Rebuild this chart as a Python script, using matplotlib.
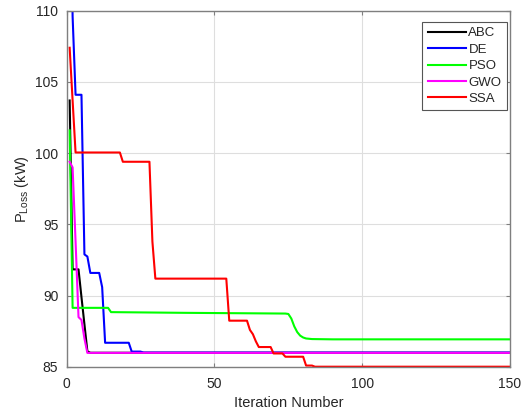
import matplotlib
matplotlib.use("Agg")
import matplotlib.pyplot as plt

plt.rcParams['font.family'] = ['Liberation Sans', 'DejaVu Sans']
plt.rcParams['mathtext.fontset'] = 'custom'
plt.rcParams['mathtext.rm'] = 'Liberation Sans'
plt.rcParams['mathtext.it'] = 'Liberation Sans:italic'

# Convergence histories (iteration, best power loss in kW) for each optimizer
abc_iter = [1, 2, 4, 5, 6, 7, 8, 150]
abc_loss = [103.7, 91.85, 91.85, 89.9, 88.0, 86.1, 86.0, 86.0]

de_iter = [1, 2, 3, 5, 6, 7, 8, 11, 12, 13, 21, 22, 25, 26, 150]
de_loss = [125.0, 109.6, 104.1, 104.1, 92.9, 92.75, 91.6, 91.6, 90.6, 86.7,
           86.7, 86.08, 86.08, 86.01, 86.01]

pso_iter = [1, 2, 14, 15, 40, 74, 75, 76, 77, 78, 79, 80, 81, 83, 90, 150]
pso_loss = [101.6, 89.15, 89.15, 88.85, 88.8, 88.75, 88.72, 88.4, 87.85,
            87.45, 87.2, 87.07, 87.0, 86.96, 86.94, 86.94]

gwo_iter = [1, 2, 3, 4, 5, 6, 7, 150]
gwo_loss = [99.4, 99.0, 93.8, 88.5, 88.3, 87.0, 85.99, 85.99]

ssa_iter = [1, 2, 3, 18, 19, 28, 29, 30, 54, 55, 61, 62, 63, 64, 65, 69, 70,
            73, 74, 80, 81, 83, 84, 150]
ssa_loss = [107.4, 103.7, 100.05, 100.05, 99.4, 99.4, 93.8, 91.2, 91.2, 88.25,
            88.25, 87.6, 87.3, 86.8, 86.4, 86.4, 85.95, 85.95, 85.72, 85.72,
            85.1, 85.1, 85.02, 85.02]

series = [
    ("ABC", abc_iter, abc_loss, "#000000"),
    ("DE", de_iter, de_loss, "#0000ff"),
    ("PSO", pso_iter, pso_loss, "#00ff00"),
    ("GWO", gwo_iter, gwo_loss, "#ff00ff"),
    ("SSA", ssa_iter, ssa_loss, "#ff0000"),
]

x_ticks = [0, 50, 100, 150]
y_ticks = [85, 90, 95, 100, 105, 110]

fig = plt.figure(figsize=(5.31, 4.16), dpi=100)
ax = fig.add_axes([0.1256, 0.1178, 0.8349, 0.8565])

for name, it, loss, color in series:
    ax.plot(it, loss, color=color, lw=1.5, label=name)

ax.set_xlim(0, 150)
ax.set_ylim(85, 110)
ax.set_xticks(x_ticks)
ax.set_yticks(y_ticks)
ax.grid(True, color="#dedede", lw=0.8)
ax.set_axisbelow(True)

edge = "#7f7f7f"
text_c = "#262626"
for sp in ax.spines.values():
    sp.set_color(edge)
    sp.set_linewidth(1.0)
ax.tick_params(direction="in", length=3, width=0.8, color=edge,
               labelcolor=text_c, labelsize=10, top=True, right=True)
ax.tick_params(axis="x", pad=7)
ax.tick_params(axis="y", pad=6)

ax.set_xlabel("Iteration Number", fontsize=10.5, color=text_c, labelpad=4)
ax.set_ylabel(r"P$_{\mathrm{Loss}}$ (kW)", fontsize=10.5, color=text_c, labelpad=3)

leg = ax.legend(loc="upper right", bbox_to_anchor=(0.9925, 0.969),
                borderaxespad=0, fontsize=9.5, handlelength=2.9,
                handletextpad=0.2, labelspacing=0.32, borderpad=0.4,
                fancybox=False, framealpha=1, edgecolor="#555555")
leg.get_frame().set_linewidth(0.8)
for t in leg.get_texts():
    t.set_color(text_c)

fig.savefig("out.png", dpi=100)
